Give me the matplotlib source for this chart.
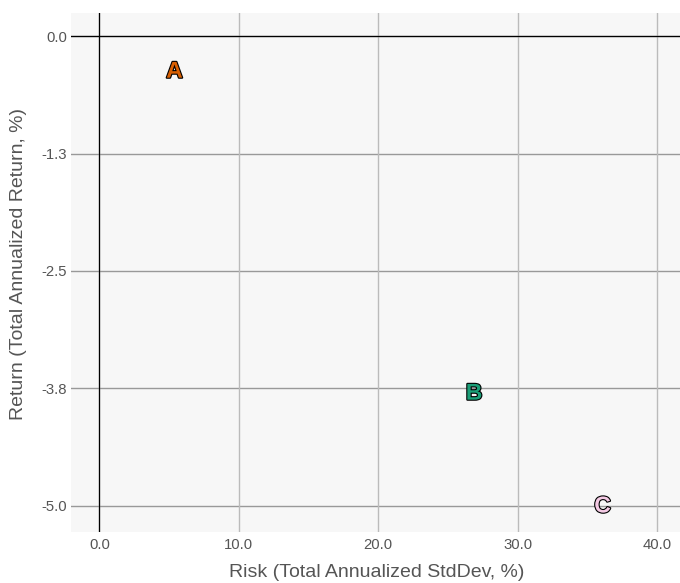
import matplotlib
matplotlib.use("Agg")
import matplotlib.pyplot as plt
import matplotlib.patheffects as pe

plt.rcParams['font.family'] = ['Liberation Sans', 'DejaVu Sans']

labels = ["A", "B", "C"]
risk = [5.38, 26.87, 36.08]
ret = [-0.374, -3.80, -5.0]
colors = ["#d95f02", "#1b9e77", "#f4cae4"]

xticks = [0.0, 10.0, 20.0, 30.0, 40.0]
xtick_labels = ["0.0", "10.0", "20.0", "30.0", "40.0"]
yticks = [0.0, -1.25, -2.5, -3.75, -5.0]
ytick_labels = ["0.0", "-1.3", "-2.5", "-3.8", "-5.0"]

fig = plt.figure(figsize=(6.8, 5.83), dpi=100)
ax = fig.add_axes([0.1044, 0.0875, 0.8956, 0.8902])
ax.set_facecolor("#f7f7f7")
for s in ax.spines.values():
    s.set_visible(False)

ax.set_xlim(-2.04, 41.64)
ax.set_ylim(-5.277, 0.245)

ax.set_xticks(xticks)
ax.set_xticklabels(xtick_labels)
ax.set_yticks(yticks)
ax.set_yticklabels(ytick_labels)
ax.tick_params(length=0, labelsize=10.7, labelcolor="#555555")
ax.tick_params(axis="x", pad=4)
ax.tick_params(axis="y", pad=3)

for y in yticks:
    ax.axhline(y, color="#999999", lw=1.0, zorder=1)
for x in xticks:
    ax.axvline(x, color="#bbbbbb", lw=1.0, zorder=1)
ax.axhline(0, color="black", lw=0.9, zorder=2)
ax.axvline(0, color="black", lw=0.9, zorder=2)

for lab, x, y, c in zip(labels, risk, ret, colors):
    ax.text(x, y, lab, ha="center", va="center", fontsize=16.5, fontweight="bold",
            color=c, zorder=5,
            path_effects=[pe.Stroke(linewidth=1.6, foreground="black"), pe.Normal()])

ax.set_xlabel("Risk (Total Annualized StdDev, %)", fontsize=14, color="#555555", va="center")
ax.set_ylabel("Return (Total Annualized Return, %)", fontsize=14, color="#555555", va="center")
ax.xaxis.set_label_coords(0.502, -0.079)
ax.yaxis.set_label_coords(-0.087, 0.516)

fig.savefig("out.png", dpi=100)
